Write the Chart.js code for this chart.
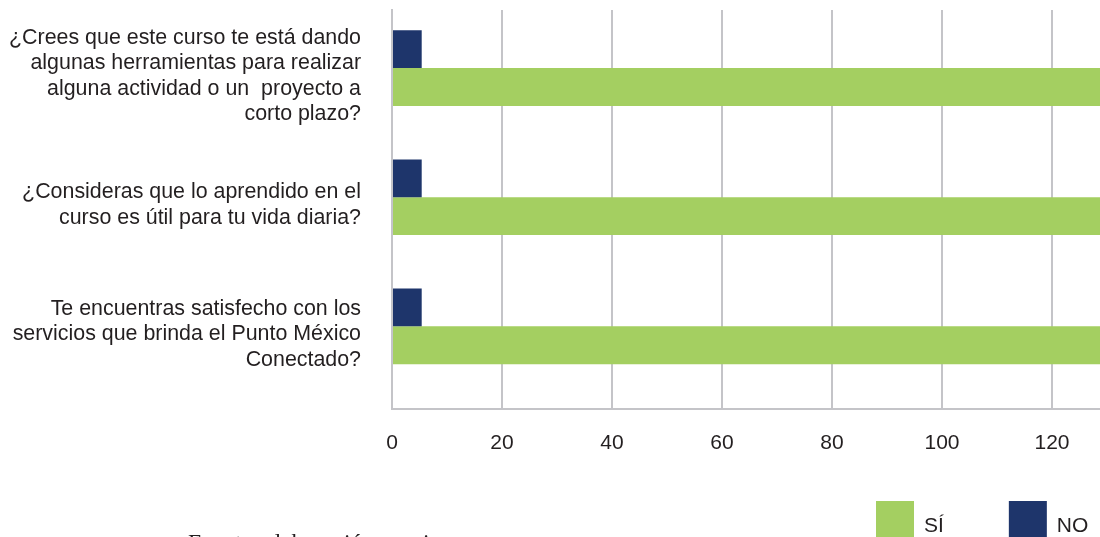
<!DOCTYPE html>
<html lang="es">
<head>
<meta charset="utf-8">
<title>Encuesta de satisfacción</title>
<script src="https://cdn.jsdelivr.net/npm/chart.js@4/dist/chart.umd.min.js"></script>
<style>
    html, body { margin: 0; padding: 0; background: #fff; overflow: hidden; }
    #wrap { position: relative; width: 1100px; height: 537px; overflow: hidden; }
    #chart { display: block; }
    .fuente {
        position: absolute; left: 188px; top: 531px;
        font: 23.5px/23.5px "Liberation Serif", "DejaVu Serif", serif;
        color: #231f20; white-space: nowrap;
    }
</style>
</head>
<body>
<div id="wrap">
    <canvas id="chart" width="1100" height="537"></canvas>
    <div class="fuente">Fuente: elaboración propia</div>
</div>
<script>
    // preguntas (cada una partida en líneas como en el informe)
    const questions = [
        ["¿Crees que este curso te está dando", "algunas herramientas para realizar", "alguna actividad o un  proyecto a", "corto plazo?"],
        ["¿Consideras que lo aprendido en el", "curso es útil para tu vida diaria?"],
        ["Te encuentras satisfecho con los", "servicios que brinda el Punto México", "Conectado?"],
    ];
    const noValues = [5.4, 5.4, 5.4];
    const siValues = [135, 135, 135];
    const xTicks = [0, 20, 40, 60, 80, 100, 120];

    const GREEN = "#a4cf61";
    const NAVY = "#1e356b";
    const GRID = "#c4c4c8";
    const TEXT = "#231f20";
    const FONT = "'Liberation Sans', Arial, Helvetica, sans-serif";

    const points = (values) => values.map((v, i) => ({ x: v, y: i }));

    // leyenda propia abajo a la derecha (SÍ primero)
    const bottomLegend = {
        id: "bottomLegend",
        afterDraw(chart) {
            const ctx = chart.ctx;
            const items = chart.data.datasets.slice().reverse();
            ctx.save();
            ctx.font = "21px " + FONT;
            ctx.textBaseline = "alphabetic";
            ctx.textAlign = "left";
            let x = 876;
            items.forEach((ds) => {
                ctx.fillStyle = ds.backgroundColor;
                ctx.fillRect(x, 501, 38, 36);
                ctx.fillStyle = TEXT;
                ctx.fillText(ds.label, x + 48, 532);
                x += 48 + ctx.measureText(ds.label).width + 65;
            });
            ctx.restore();
        },
    };

    new Chart(document.getElementById("chart"), {
        type: "bar",
        data: {
            datasets: [
                { label: "NO", data: points(noValues), backgroundColor: NAVY },
                { label: "SÍ", data: points(siValues), backgroundColor: GREEN },
            ],
        },
        options: {
            indexAxis: "y",
            responsive: false,
            animation: false,
            events: [],
            categoryPercentage: 0.585,
            barPercentage: 1,
            layout: { padding: { top: 10, right: 0, bottom: 83, left: 0 } },
            plugins: { legend: { display: false }, tooltip: { enabled: false } },
            scales: {
                x: {
                    type: "linear",
                    min: 0,
                    max: 128.73,
                    afterBuildTicks: (scale) => { scale.ticks = xTicks.map((v) => ({ value: v })); },
                    afterFit: (scale) => {
                        scale.height = 45;
                        scale.paddingLeft = 0;
                        scale.paddingRight = 0;
                    },
                    grid: { color: GRID, lineWidth: 2, drawTicks: false },
                    border: { display: true, color: GRID, width: 2 },
                    ticks: { color: TEXT, padding: 22, font: { family: FONT, size: 21 } },
                },
                y: {
                    type: "linear",
                    reverse: true,
                    offset: false,
                    min: -0.45,
                    max: 2.64,
                    afterBuildTicks: (scale) => { scale.ticks = questions.map((q, i) => ({ value: i })); },
                    afterFit: (scale) => {
                        scale.width = 392;
                        scale.paddingTop = 0;
                        scale.paddingBottom = 0;
                    },
                    grid: { display: false, drawTicks: false, offset: false },
                    border: { display: true, color: GRID, width: 2 },
                    ticks: {
                        color: TEXT,
                        padding: 31,
                        labelOffset: 8,
                        font: { family: FONT, size: 21.4, lineHeight: 1.19 },
                        callback: (value) => questions[value] || "",
                    },
                },
            },
        },
        plugins: [bottomLegend],
    });
</script>
</body>
</html>
